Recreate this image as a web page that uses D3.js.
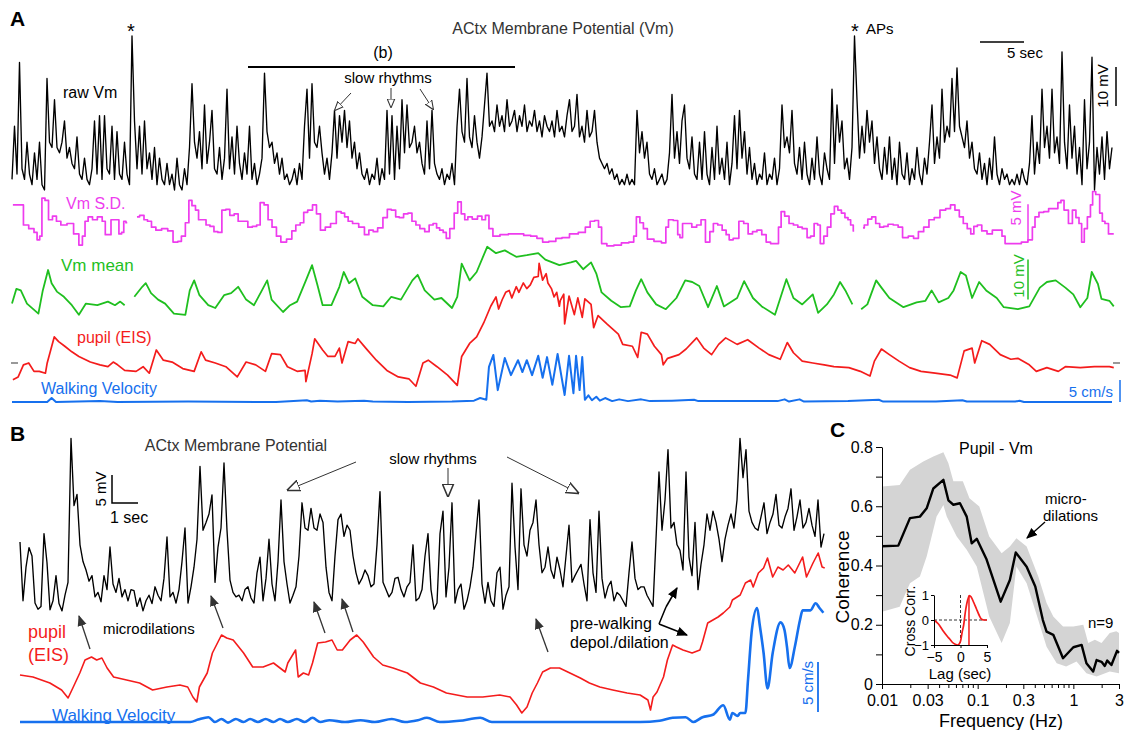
<!DOCTYPE html>
<html>
<head>
<meta charset="utf-8">
<script src="https://cdn.jsdelivr.net/npm/d3@7"></script>
<style>
  body { margin: 0; background: #fff; }
  text { font-family: 'Liberation Sans', Arial, sans-serif; }
</style>
</head>
<body>
<div id="chart"></div>
<script>
// ---------- panel A data (time in sec, 0..125) ----------
// raw Vm, evenly sampled (441 samples over 125 s), mV above rest
const rawVmA = [
  2,12,3,24,4,2,9,3,1,7,2,9,1,0,21,9,8,17,8,7,
  9,13,6,8,5,4,10,3,2,6,2,1,4,13,3,14,2,14,4,3,
  12,2,11,3,2,9,3,1,29,13,4,12,3,13,4,7,2,8,1,6,
  2,1,5,1,3,0,6,1,0,4,1,8,20,9,6,11,4,16,5,9,
  15,4,3,8,2,6,19,4,10,3,12,5,2,7,3,12,2,5,1,3,
  6,22,11,8,9,5,7,3,6,2,3,1,2,4,1,5,2,12,19,6,
  20,9,8,12,7,3,6,2,7,15,6,14,9,15,8,13,6,9,4,7,
  3,2,4,1,3,2,6,1,4,2,15,3,14,2,12,4,17,7,16,8,
  9,12,7,9,5,3,13,4,15,5,3,2,4,1,3,2,5,1,12,19,
  11,9,21,10,8,14,9,6,10,16,22,12,13,11,16,12,14,11,17,12,
  13,15,11,14,12,16,11,13,12,15,11,13,10,14,12,11,13,10,15,11,
  12,10,14,17,11,12,18,10,12,9,15,10,11,15,9,6,5,4,5,3,
  4,2,3,1,2,1,3,1,2,1,15,7,11,6,9,3,2,4,1,2,
  3,1,2,7,18,6,11,5,13,16,6,4,10,3,2,9,2,11,3,1,
  8,2,12,3,6,2,9,1,5,14,4,15,6,11,3,8,2,5,1,3,
  2,7,1,3,2,6,1,4,16,8,10,7,15,5,3,8,2,9,3,1,
  6,2,10,3,1,7,4,2,19,5,16,9,13,4,6,2,8,29,17,6,
  12,7,15,9,13,5,10,4,2,8,3,10,2,6,1,9,3,2,7,1,
  4,2,8,3,1,6,3,9,16,5,10,6,19,9,12,10,21,11,23,12,
  10,8,13,6,9,4,3,7,2,5,1,6,2,10,3,1,4,2,3,1,
  2,1,3,1,4,2,1,5,14,3,9,5,19,8,12,6,19,7,10,5,
  26,9,4,16,6,12,3,8,1,17,4,9,25,0,8,3,10,2,11,4,8
]

// Vm S.D. (mV) as [sec, value]; null = gap
const vmSdA = [
  [0.1,5.5],[1.1,5.5],[1.5,2.8],[2.3,2.3],[2.7,1.8],[3.0,0.8],[3.3,1.3],[3.5,6.4],[4.0,6.1],[4.3,3.5],
  [4.9,4.0],[5.2,3.3],[5.9,2.8],[6.6,3.0],[7.4,1.6],[7.8,0.1],[8.2,1.3],[8.4,3.3],[8.9,3.9],[9.4,3.5],
  [10.0,3.9],[10.5,3.3],[10.7,1.5],[11.1,1.5],[11.4,3.5],[12.0,3.5],[12.3,1.6],[12.6,1.8],[12.8,3.3],[13.1,3.1],
  [13.6,null],
  [14.2,3.9],[14.8,4.1],[15.2,3.5],[15.6,3.3],[16.1,2.5],[16.6,2.1],[17.4,2.3],[18.0,2.0],[18.6,0.5],[19.1,0.6],
  [19.4,1.3],[20.0,3.1],[20.2,6.1],[20.7,5.4],[21.0,4.8],[21.4,3.5],[21.8,3.5],[22.3,2.8],[22.7,2.6],[23.2,1.9],
  [23.6,1.8],[24.1,4.8],[24.5,4.9],[25.0,4.1],[25.5,4.3],[25.9,3.3],[26.6,3.3],[27.0,2.5],[27.6,2.6],[28.0,2.8],
  [28.4,5.8],[28.9,5.5],[29.3,3.5],[29.8,2.5],[30.3,1.3],[30.8,0.5],[31.6,0.9],[32.0,2.0],[32.5,2.8],[33.0,3.1],
  [33.3,4.5],[33.9,4.8],[34.4,5.5],[34.8,4.3],[35.3,2.1],[35.9,2.5],[36.5,3.0],[37.2,4.6],[37.6,4.4],[38.0,3.9],
  [38.4,3.3],[39.0,3.0],[39.8,2.5],[40.3,1.5],[40.8,2.1],[41.3,1.9],[41.8,2.4],[42.5,3.8],[42.8,4.9],[43.4,4.8],
  [43.8,3.9],[44.2,3.8],[44.8,4.3],[45.2,4.4],[45.7,3.3],[46.1,2.8],[46.6,2.3],[47.2,1.9],[47.6,2.8],[48.1,3.0],
  [48.4,2.4],[48.8,2.1],[49.2,1.8],[49.5,1.0],[50.0,2.3],[50.5,4.4],[50.8,5.9],[51.3,4.3],[51.6,3.5],[52.0,3.9],
  [52.6,3.6],[53.2,4.0],[53.6,3.5],[54.0,4.1],[54.4,2.3],[54.9,1.3],[56.0,1.5],[56.8,1.6],[57.7,1.6],[58.6,1.4],
  [59.3,1.3],[60.0,1.0],[60.6,0.5],[61.4,0.6],[62.2,1.0],[62.8,1.1],[63.9,1.6],[64.8,1.8],[65.5,2.5],[65.9,3.3],
  [66.5,3.4],[66.8,2.5],[67.2,0.3],[68.0,0.0],[68.8,0.1],[69.7,0.4],[70.5,0.5],[70.8,1.3],[71.1,3.9],[71.6,3.1],
  [71.9,2.3],[72.5,0.9],[73.4,0.6],[74.2,0.4],[74.4,2.5],[74.8,3.5],[75.5,3.4],[75.8,1.5],[76.0,1.1],[76.4,3.0],
  [77.0,3.0],[77.5,2.5],[78.1,2.8],[78.5,3.5],[79.1,0.5],[79.5,1.9],[79.9,3.0],[80.5,2.8],[80.9,2.1],[81.4,1.5],
  [81.6,0.8],[82.3,1.0],[82.9,3.3],[83.4,3.0],[83.9,1.6],[84.4,1.9],[84.9,2.1],[85.5,1.5],[85.9,0.5],[86.5,0.3],
  [86.9,0.3],[87.3,2.5],[87.5,4.6],[88.1,4.0],[88.5,3.0],[89.1,2.8],[89.5,2.5],[90.1,2.3],[90.6,1.1],[90.9,1.3],
  [91.4,3.0],[91.7,2.8],[92.0,0.3],[92.5,1.3],[92.8,2.5],[93.3,4.3],[93.6,5.3],[94.1,4.8],[94.4,4.4],[94.9,3.8],
  [95.1,3.5],[95.5,2.8],[95.7,2.0],
  [96.2,null],
  [96.7,2.4],[97.0,2.8],[97.5,3.6],[97.9,3.9],[98.4,3.0],[98.8,2.5],[99.3,2.6],[99.8,2.9],[100.5,2.8],[100.9,2.5],
  [101.5,1.1],[102.2,1.3],[102.7,1.0],[103.3,1.9],[103.9,2.5],[104.5,3.5],[105.1,3.8],[105.8,4.8],[106.4,5.0],[106.9,5.5],
  [107.4,4.8],[107.9,3.9],[108.3,3.0],[108.8,2.3],[109.1,1.6],[109.5,2.6],[109.9,2.8],[110.5,2.0],[111.1,1.6],[111.7,2.1],
  [112.3,2.1],[112.7,1.3],[113.0,0.3],[113.6,0.3],[114.3,0.3],[115.1,0.5],[115.8,0.8],[116.1,2.5],[116.4,3.9],[117.0,4.5],
  [117.5,4.6],[118.1,5.0],[118.6,5.0],[119.1,5.8],[119.3,6.1],[119.8,4.8],[120.3,3.0],[120.7,4.8],[121.1,3.8],[121.4,3.0],
  [121.7,0.5],[122.0,2.3],[122.4,3.9],[122.7,5.5],[122.9,7.3],[123.4,6.9],[123.8,4.4],[124.0,3.3],[124.4,3.0],[124.8,1.6],
  [125.2,1.6]
]

// Vm mean (mV above rest) as [sec, value]
const vmMeanA = [
  [0,3.0],[0.5,6.7],[1.0,6.3],[1.7,3.0],[3.0,0.5],[3.5,6.3],[4.1,11.4],[4.5,8.1],[5.1,6.0],[5.9,4.7],
  [6.8,2.6],[7.6,0.2],[8.4,3.0],[9.7,2.6],[10.9,3.5],[11.7,2.6],[12.3,3.5],[12.8,2.6],
  [13.3,null],
  [13.9,4.7],[14.8,7.2],[15.2,8.1],[15.8,5.6],[16.6,4.0],[17.4,3.0],[18.4,0.5],[19.7,0.2],[20.2,6.3],[20.7,8.8],
  [21.3,5.1],[22.3,2.6],[23.1,1.9],[24.1,5.1],[24.9,5.6],[25.7,7.2],[26.6,4.0],[27.5,2.6],[28.4,6.3],[29.0,8.8],
  [29.5,4.0],[30.8,0.9],[31.6,2.6],[32.4,3.5],[33.4,8.8],[34.1,12.6],[34.7,7.7],[35.3,2.6],[36.3,2.6],[37.2,7.2],
  [37.7,10.9],[38.3,8.1],[39.0,9.3],[39.8,4.7],[41.0,2.6],[42.2,2.3],[43.1,4.7],[44.2,4.0],[45.5,8.8],[46.1,10.2],
  [46.9,6.3],[48.0,4.0],[48.8,4.4],[50.0,1.9],[50.6,4.7],[51.1,13.0],[52.0,8.8],[52.8,10.9],[54.0,17.2],[55.0,15.6],
  [56.0,16.3],[57.3,14.7],[58.5,15.1],[59.8,15.6],[60.6,14.0],[62.2,12.6],[63.5,13.3],[64.1,13.7],[64.9,11.6],[65.8,13.3],
  [66.4,10.5],[67.0,5.8],[68.1,3.7],[69.2,2.1],[70.2,2.3],[70.9,6.3],[71.5,9.1],[72.2,5.8],[73.2,2.8],[74.3,1.6],
  [75.5,4.4],[76.5,8.8],[77.3,8.4],[78.1,7.4],[79.1,2.1],[80.1,7.4],[80.9,2.3],[82.4,4.4],[83.2,8.6],[84.2,4.4],
  [85.2,2.3],[86.7,0.2],[88.0,9.1],[88.8,4.4],[89.8,2.8],[91.0,5.3],[91.6,0.7],[92.6,2.8],[93.4,5.3],[94.1,8.4],
  [94.7,6.3],[95.5,2.8],
  [96.0,null],
  [96.5,1.6],[97.2,2.8],[98.2,8.8],[98.8,7.0],[99.7,4.4],[101.3,2.1],[102.8,3.3],[103.8,3.7],[104.5,6.3],[105.3,3.3],
  [106.4,4.4],[107.0,6.3],[107.8,10.9],[108.4,10.0],[109.1,4.4],[109.9,8.4],[110.7,6.3],[111.9,4.4],[112.7,2.1],[114.3,1.6],
  [115.6,2.3],[116.8,7.0],[117.6,8.4],[118.6,8.8],[119.7,7.0],[120.6,5.3],[121.4,2.1],[122.2,4.4],[122.7,10.9],[123.4,7.9],
  [123.8,4.2],[124.7,3.7],[125.2,2.3]
]

// pupil diameter (% change) as [sec, value]
const pupilA = [
  [0.1,3],[0.7,4.5],[1.3,11],[1.9,12],[2.5,7.5],[3.1,7.5],[3.8,6.5],[4.0,12],[4.8,26],[5.3,23.5],
  [6.0,21],[6.8,18],[7.6,15.5],[8.9,12.5],[10.0,11],[10.9,10],[11.5,12.5],[12.0,11],[12.8,8],[14.1,7.5],
  [14.9,10],[15.6,6.5],[16.4,19],[17.2,13.5],[18.2,12.5],[19.4,9],[20.7,7.5],[21.5,18],[22.0,13.5],[23.1,12],
  [24.3,10],[25.6,4.5],[26.6,12.5],[27.7,11],[28.8,7.5],[29.5,17],[30.5,16.5],[31.3,10],[32.4,7.5],[33.3,8],
  [33.4,2],[34.1,17],[34.4,25],[35.3,19],[35.9,15.5],[36.7,15.5],[37.2,20],[37.5,12],[38.2,23.5],[39.0,22.5],
  [39.3,25],[40.2,20],[41.4,13.5],[42.6,8],[43.9,4.5],[45.1,3.5],[45.9,-0.5],[46.7,12],[47.3,13.5],[48.3,10],
  [49.5,5.5],[50.6,0],[51.1,15.5],[52.0,22.5],[52.8,26],[53.6,33.5],[54.4,42.5],[55.0,47.5],[55.3,41],[55.7,46],
  [56.1,50],[56.5,51],[56.8,47],[57.3,53],[57.6,50],[58.1,55],[58.5,52],[58.9,54],[59.3,58],[59.8,58.5],
  [59.9,65.5],[60.3,56.5],[60.7,60],[60.9,55],[61.3,52],[61.6,47.5],[61.9,50],[62.2,42.5],[62.3,45.5],[62.7,49],
  [62.8,33],[63.3,48],[63.9,38],[64.3,47],[64.8,36.5],[65.1,46.5],[65.8,43.5],[66.1,31],[66.6,37.5],[67.6,33],
  [68.9,27.5],[69.4,22],[70.5,21],[71.1,15],[71.5,28.5],[72.2,27.5],[73.0,21],[73.8,16.5],[74.0,11],[74.5,14.5],
  [75.8,16.5],[76.6,19.5],[77.8,25.5],[78.6,20],[79.5,16.5],[80.3,22],[81.1,25.5],[82.4,22],[83.6,24.5],[84.9,20],
  [86.0,16.5],[87.3,14],[88.1,23],[88.8,17.5],[89.8,13],[91.0,12],[92.3,11],[93.4,10],[95.1,9.5],[96.4,7.5],
  [97.5,5],[98.0,13],[98.8,19.5],[99.7,16.5],[100.8,13],[102.0,9.5],[103.3,7.5],[104.9,6.5],[106.6,5.5],[107.4,4],
  [108.2,18.5],[109.1,20],[109.4,12],[110.2,24],[111.1,22],[112.3,16.5],[113.5,14],[114.3,14.5],[115.6,11],[116.4,7.5],
  [117.6,9.5],[118.9,7.5],[119.7,10],[121.4,9.5],[123.0,10],[124.7,10],[125.2,9.5]
]
const pupilRefA = 12

// walking velocity (cm/s) as [sec, value]
const walkA = [
  [0,0],[4.0,0],[4.5,0.9],[5.0,0],[10,0.2],[12,0],[20,0.1],[30,0],[33.5,0.4],[34,0.1],
  [35,0.3],[37,0.1],[40,0.3],[41,0.1],[45,0],[50,0.1],[52.5,0.3],[53.2,0.9],[53.9,0.5],[54.2,8],
  [54.7,10.7],[55.2,2.7],[56.0,10],[56.7,6.1],[57.5,9.5],[58.0,6.8],[58.5,9.5],[59.1,6.1],[59.8,10.5],[60.3,5.5],
  [60.8,10.2],[61.4,3.9],[62.0,10.9],[62.8,1.6],[63.3,10.5],[63.8,2.0],[64.1,10.5],[64.5,2.7],[64.8,10.2],[65.1,0.5],
  [65.5,1.5],[65.9,0.4],[66.4,1.2],[66.8,0.3],[67.4,0.9],[68.2,0.2],[69,0.6],[70,0.2],[71.5,0.6],[72.5,0.2],
  [75,0.3],[77.5,0.5],[78,0.2],[82,0.2],[87,0.2],[87.8,0.6],[88.3,0.1],[89.5,0.6],[90,0.1],[95,0.2],
  [98.5,0.5],[99,0.1],[105,0.1],[108,0.4],[108.5,0.1],[114,0.1],[114.5,0.3],[115,0],[125,0]
]

// ---------- panel B data (time in sec, 0..31) ----------
// raw Vm, evenly sampled every 3/26 s, mV above rest
const rawVmB = [
  12.5,2,8,11.5,10,1.6,0.5,1,14,8.8,0.4,2,6.5,1.5,0.2,3,5.3,31,19,21,
  12,9,7.5,5.5,6.5,2.7,3.5,1.8,6.5,4,11.6,5,3.5,6,2.7,4,2,4,3.8,1,
  2.5,0.2,2,3,1.5,4.5,3,2,6,13.4,2.7,3.5,1.6,4,9,15,1.6,4.5,8,13,
  26,14.6,16,17.5,20.9,5.3,11.6,15,26.6,14.6,5.7,3.5,2.7,3,2,4,4.5,2.5,1.6,7,
  9.8,2,6,13,5,2,9,20,9,5,1.6,3,4.5,10,19.5,15,14.6,18.5,15,14.6,
  17.5,16,8,3.5,2,10,16.5,17.5,13.5,15.5,14.6,10,7,5,6,7.5,6.5,4.5,5,12,
  21.5,5.3,4,2.7,3.5,6,6.2,4,2.7,4.5,5.3,12,2,2.5,4,10,14,4,0.5,1.6,
  14,18,2.7,8,19.5,1.6,4,5,0.5,2,4.5,8,14,20,5,1.6,5.3,2,1,7,
  8,0.5,3,4.5,23,11.6,4,22,12,10,14.6,16,20,12,7,8,11.6,7.5,6,9.8,
  7.5,4.5,10,15.5,5.3,6.5,7.5,8.5,5,2,16.5,7,3.5,18,6,2.5,4.5,5.5,2,3.5,
  3,2,1,7,12.5,6,4,4.5,4.5,3,2,1,13,25,14.6,20,29,15,16,12,
  11,7.5,25,9.8,6.5,16,4,8.5,12,17.5,14.6,18,16,13,9,13,15.5,17.5,15,20,
  31,24,29,18,16,15,14.6,17,19.5,14,16,17.5,21,15.5,15,17,18.5,22,14.6,17,
  20,15,16,18.5,15.5,13.5,20,11.6,14
]
const rawDtB = 3 / 26

const pupilB = [
  [0,17.5],[0.5,16.5],[1.15,13.5],[1.6,10],[1.85,6],[2.05,11.5],[2.3,18.5],[2.5,25],[2.75,26.5],[2.95,25],
  [3.15,26],[3.35,21],[3.6,16.5],[4.1,15],[4.6,13.5],[5.1,10],[5.65,11.5],[6.15,12.5],[6.45,11.5],[6.65,6.5],
  [6.8,4],[6.9,11.5],[7.2,18.5],[7.4,28.5],[7.75,37.5],[7.95,36],[8.2,35],[8.6,28.5],[8.95,21.5],[9.35,21.5],
  [9.75,23.5],[10.0,21],[10.2,19],[10.3,23.5],[10.6,30],[10.7,16.5],[10.9,18.5],[11.1,17.5],[11.25,23.5],[11.45,33.5],
  [11.75,34],[12.0,35],[12.2,30],[12.4,30],[12.7,35],[12.95,37.5],[13.2,34],[13.6,26.5],[13.95,22.5],[14.35,21],
  [14.9,18.5],[15.4,13.5],[15.9,11.5],[16.4,8.5],[17.2,6.5],[17.8,6.5],[18.45,7.5],[18.85,6.5],[19.1,2.5],[19.3,-1.5],
  [19.5,1.5],[19.7,8.5],[19.9,13.5],[20.1,19],[20.4,21],[20.75,21],[21.15,18.5],[21.55,16],[21.9,13.5],[22.3,11.5],
  [22.8,10],[23.35,8.5],[23.85,7.5],[24.15,5],[24.25,0],[24.35,6.5],[24.5,9],[24.75,16.5],[24.9,25],[25.1,32.5],
  [25.25,31.5],[25.5,30],[25.85,28.5],[26.15,30],[26.25,34],[26.45,43.5],[26.65,45],[26.85,46.5],[27.05,48.5],[27.3,51.5],
  [27.4,55],[27.7,57.5],[27.9,63.5],[28.1,65],[28.2,61.5],[28.4,68.5],[28.6,71],[28.75,76],[28.95,66.5],[29.15,71.5],
  [29.35,70],[29.55,72.5],[29.8,68.5],[30.1,76.5],[30.25,66.5],[30.5,73.5],[30.7,78.5],[30.85,71.5],[30.95,71]
]

const walkB = [
  [0,0],[6.55,0],[6.85,0.2],[7.25,0.4],[7.5,0],[7.75,0.25],[8.0,-0.05],[8.3,0.25],[8.6,0],[8.85,0.25],
  [9.15,0],[9.45,0.25],[9.75,0],[10.0,0.25],[10.3,0],[10.65,0.25],[10.95,0],[11.25,0.35],[11.55,0],[11.9,0.15],
  [12.5,0],[13.1,0.15],[13.65,0],[14.3,0.25],[14.8,0],[15.3,0.15],[15.65,0.35],[16.15,0],[16.9,0.1],[17.7,0.35],
  [18.15,0],[19.2,0],[20.75,0],[22.3,0],[23.85,0],[24.6,0.1],[25.1,0.35],[25.6,0.4],[25.9,0],[26.25,0.4],
  [26.65,0.6],[27.05,1.4],[27.3,0.2],[27.4,0.75],[27.6,0.5],[27.7,0.75],[27.9,0.75],[28.0,3.5],[28.15,7.7],[28.35,9.5],
  [28.45,8.1],[28.6,5.75],[28.75,2.8],[28.95,5.75],[29.25,8.3],[29.4,7.7],[29.5,6.25],[29.6,4.5],[29.8,6.25],[30.0,8.5],
  [30.1,9.3],[30.4,9.3],[30.6,9.9],[30.75,9.5],[30.9,9.1]
]

// ---------- panel C data ----------
const cohFreq = [0.01,0.0148,0.0196,0.0249,0.0293,0.0344,0.0438,0.0494,0.0557,0.0653,0.0768,0.0866,0.0978,0.124,0.174,0.217,0.25,0.325,0.40,0.48,0.525,0.617,0.78,1.0,1.22,1.37,1.61,1.75,1.97,2.13,2.26,2.5,2.86,3.0]
const cohMean = [0.465,0.467,0.56,0.565,0.593,0.66,0.689,0.62,0.605,0.61,0.565,0.475,0.49,0.42,0.278,0.351,0.444,0.396,0.329,0.216,0.177,0.166,0.087,0.124,0.132,0.07,0.042,0.081,0.075,0.061,0.079,0.064,0.112,0.105]
const cohUpper = [[0.01,0.667],[0.0153,0.672],[0.0196,0.723],[0.027,0.751],[0.0344,0.768],[0.0438,0.782],[0.0494,0.745],[0.0557,0.684],[0.07,0.684],[0.082,0.627],[0.104,0.599],[0.132,0.498],[0.178,0.441],[0.217,0.464],[0.254,0.492],[0.325,0.464],[0.43,0.363],[0.525,0.273],[0.617,0.228],[0.78,0.194],[1.0,0.194],[1.27,0.2],[1.43,0.138],[1.68,0.149],[1.97,0.138],[2.4,0.172],[2.81,0.178],[3.0,0.172]]
const cohLower = [[0.01,0.244],[0.0153,0.261],[0.0196,0.34],[0.0249,0.363],[0.0293,0.43],[0.0372,0.565],[0.0438,0.604],[0.0475,0.565],[0.0604,0.498],[0.0768,0.453],[0.0978,0.397],[0.132,0.228],[0.178,0.138],[0.217,0.206],[0.254,0.397],[0.325,0.34],[0.43,0.216],[0.525,0.126],[0.67,0.07],[0.84,0.059],[1.08,0.076],[1.37,0.036],[1.75,0.025],[2.4,0.042],[3.0,0.036]]
const freqTicks = [0.01, 0.03, 0.1, 0.3, 1, 3]
const cohTicks = [0, 0.2, 0.4, 0.6, 0.8]

const xcorr = [[-5,0],[-4.2,-0.15],[-3.3,-0.43],[-2.5,-0.65],[-2.0,-0.77],[-1.5,-0.9],[-1.0,-0.97],[-0.5,-1],[0,-0.85],[0.3,-0.5],[0.6,-0.2],[0.9,0.3],[1.2,0.67],[1.5,0.9],[1.7,0.98],[2.0,0.92],[2.5,0.7],[3.0,0.45],[3.5,0.2],[4.0,0.03],[4.5,0],[5,0]]
const xcorrPeakLag = 1.6

// ---------- colours ----------
const magenta = '#ee3cee'
const green = '#1fbf1f'
const red = '#f41c1c'
const blue = '#1670ee'
const ink = '#333'

const svg = d3
  .select('#chart')
  .append('svg')
  .attr('width', 1124)
  .attr('height', 730)

const defs = svg.append('defs')
function marker(id, fill, stroke, size) {
  defs
    .append('marker')
    .attr('id', id)
    .attr('viewBox', '0 0 10 10')
    .attr('refX', 9)
    .attr('refY', 5)
    .attr('markerWidth', size)
    .attr('markerHeight', size)
    .attr('markerUnits', 'userSpaceOnUse')
    .attr('orient', 'auto')
    .append('path')
    .attr('d', 'M0,0.8 L10,5 L0,9.2 Z')
    .attr('fill', fill)
    .attr('stroke', stroke)
    .attr('stroke-width', 1.2)
}
marker('openS', '#fff', ink, 9)
marker('openL', '#fff', ink, 13)
marker('solid', ink, 'none', 11)
marker('solidK', '#000', 'none', 11)

function label(x, y, txt, size, color, anchor, extra) {
  const t = svg
    .append('text')
    .attr('x', x)
    .attr('y', y)
    .text(txt)
    .attr('font-size', size)
    .attr('fill', color || '#000')
    .attr('text-anchor', anchor || 'start')
  if (extra) t.attr('font-weight', extra)
  return t
}
function vlabel(x, y, txt, size, color) {
  return svg
    .append('text')
    .attr('transform', 'translate(' + x + ',' + y + ') rotate(-90)')
    .text(txt)
    .attr('font-size', size)
    .attr('fill', color)
    .attr('text-anchor', 'middle')
}
function arrow(x1, y1, x2, y2, m, color, w) {
  svg
    .append('line')
    .attr('x1', x1)
    .attr('y1', y1)
    .attr('x2', x2)
    .attr('y2', y2)
    .attr('stroke', color)
    .attr('stroke-width', w)
    .attr('marker-end', 'url(#' + m + ')')
}
function trace(data, line, color, w) {
  svg
    .append('path')
    .datum(data)
    .attr('d', line)
    .attr('fill', 'none')
    .attr('stroke', color)
    .attr('stroke-width', w)
    .attr('stroke-linejoin', 'round')
}

// ================= Panel A =================
const xA = d3.scaleLinear().domain([0, 125]).range([12, 1112])
const rawDtA = 125 / (rawVmA.length - 1)
const yRawA = d3.scaleLinear().domain([0, 32]).range([190, 20])
const ySdA = d3.scaleLinear().domain([0, 8]).range([245.8, 186.3])
const yMeanA = d3.scaleLinear().domain([0, 20]).range([315.6, 235.6])
const yPupA = d3.scaleLinear().domain([0, 70]).range([385.3, 255.1])
const yWalkA = d3.scaleLinear().domain([0, 10]).range([402, 358])

trace(rawVmA, d3.line().x((d, i) => xA(i * rawDtA)).y(d => yRawA(d)), '#000', 1.35)

const pairLine = (x, y) =>
  d3
    .line()
    .defined(d => d[1] !== null)
    .x(d => x(d[0]))
    .y(d => y(d[1]))

trace(vmSdA, pairLine(xA, ySdA).curve(d3.curveStep), magenta, 1.7)
trace(vmMeanA, pairLine(xA, yMeanA), green, 1.8)
trace(pupilA, pairLine(xA, yPupA), red, 1.7)
trace(walkA, pairLine(xA, yWalkA), blue, 2)

// grey zero marks beside the pupil trace
svg.append('line').attr('x1', 11).attr('x2', 18).attr('y1', yPupA(pupilRefA)).attr('y2', yPupA(pupilRefA)).attr('stroke', '#999').attr('stroke-width', 2)
svg.append('line').attr('x1', 1113).attr('x2', 1120).attr('y1', yPupA(pupilRefA)).attr('y2', yPupA(pupilRefA)).attr('stroke', '#999').attr('stroke-width', 2)

label(10, 26, 'A', 21, '#000', 'start', 'bold')
label(563, 34, 'ACtx Membrane Potential (Vm)', 16, ink, 'middle')
label(131, 38, '*', 20, '#000', 'middle')
label(855, 38, '*', 20, '#000', 'middle')
label(866, 34, 'APs', 15, '#000')
label(383, 58, '(b)', 16, '#000', 'middle')
svg.append('line').attr('x1', 248).attr('x2', 515).attr('y1', 67).attr('y2', 67).attr('stroke', '#000').attr('stroke-width', 2)
label(388, 83, 'slow rhythms', 15, '#000', 'middle')
arrow(351, 93, 335, 110, 'openS', ink, 1)
arrow(391, 88, 391, 107, 'openS', ink, 1)
arrow(420, 89, 433, 109, 'openS', ink, 1)
label(63, 98, 'raw Vm', 16, '#000')

// 5 sec / 10 mV scale bars
svg.append('line').attr('x1', xA(110)).attr('x2', xA(115)).attr('y1', 42).attr('y2', 42).attr('stroke', '#000').attr('stroke-width', 1.5)
label(1025, 58, '5 sec', 15, '#000', 'middle')
svg.append('line').attr('x1', 1116).attr('x2', 1116).attr('y1', 67).attr('y2', 106).attr('stroke', '#000').attr('stroke-width', 1.5)
vlabel(1108, 86, '10 mV', 15, '#000')

label(66, 209, 'Vm S.D.', 16, magenta)
vlabel(1021, 208, '5 mV', 15, magenta)
svg.append('line').attr('x1', 1028).attr('x2', 1028).attr('y1', ySdA(5.6)).attr('y2', ySdA(0.6)).attr('stroke', magenta).attr('stroke-width', 1.5)

label(61, 271, 'Vm mean', 17, green)
vlabel(1024, 276, '10 mV', 15, green)
svg.append('line').attr('x1', 1028).attr('x2', 1028).attr('y1', yMeanA(14)).attr('y2', yMeanA(4)).attr('stroke', green).attr('stroke-width', 1.5)

label(77, 343, 'pupil (EIS)', 16, red)
label(41, 394, 'Walking Velocity', 16, blue)
label(1113, 397, '5 cm/s', 15, blue, 'end')
svg.append('line').attr('x1', 1120).attr('x2', 1120).attr('y1', yWalkA(5)).attr('y2', yWalkA(0)).attr('stroke', blue).attr('stroke-width', 1.5)

// ================= Panel B =================
const xB = d3.scaleLinear().domain([0, 268 * rawDtB]).range([20, 824])
const yRawB = d3.scaleLinear().domain([0, 31]).range([612, 438.4])
const yPupB = d3.scaleLinear().domain([0, 80]).range([710, 550])
const yWalkB = d3.scaleLinear().domain([0, 10]).range([722, 602])

trace(rawVmB, d3.line().x((d, i) => xB(i * rawDtB)).y(d => yRawB(d)), '#000', 1.35)
trace(pupilB, pairLine(xB, yPupB), red, 1.6)
trace(walkB, pairLine(xB, yWalkB).curve(d3.curveMonotoneX), blue, 2.6)

label(10, 441, 'B', 21, '#000', 'start', 'bold')
label(236, 451, 'ACtx Membrane Potential', 16, ink, 'middle')

// 5 mV / 1 sec L bar
const barY = 503
svg.append('path')
  .attr('d', 'M112,' + (barY - (yRawB(0) - yRawB(5))) + ' L112,' + barY + ' L' + (112 + xB(1) - xB(0)) + ',' + barY)
  .attr('fill', 'none').attr('stroke', '#000').attr('stroke-width', 1.5)
vlabel(106, 489, '5 mV', 15, '#000')
label(110, 523, '1 sec', 16, '#000')

label(433, 464, 'slow rhythms', 15, '#000', 'middle')
arrow(356, 462, 288, 490, 'openL', ink, 1)
arrow(448, 468, 448, 496, 'openL', ink, 1)
arrow(507, 457, 578, 493, 'openL', ink, 1)

label(28, 638, 'pupil', 18, red)
label(28, 661, '(EIS)', 18, red)
label(103, 634, 'microdilations', 15, '#000')
arrow(90, 649, 79, 616, 'solid', ink, 1.3)
arrow(223, 628, 211, 596, 'solid', ink, 1.3)
arrow(325, 633, 314, 602, 'solid', ink, 1.3)
arrow(353, 632, 342, 599, 'solid', ink, 1.3)
arrow(548, 652, 536, 619, 'solid', ink, 1.3)

label(570, 629, 'pre-walking', 16, '#000')
label(570, 648, 'depol./dilation', 16, '#000')
svg.append('line').attr('x1', 659).attr('y1', 624).attr('x2', 666).attr('y2', 607).attr('stroke', '#000').attr('stroke-width', 1.5)
arrow(666, 607, 677, 588, 'solidK', '#000', 1.5)
arrow(659, 624, 687, 635, 'solidK', '#000', 1.5)

label(52, 721, 'Walking Velocity', 17, blue)
vlabel(813, 683, '5 cm/s', 15, blue)
svg.append('line').attr('x1', 818).attr('x2', 818).attr('y1', yWalkB(5)).attr('y2', yWalkB(0) - 10).attr('stroke', blue).attr('stroke-width', 1.8)

// ================= Panel C =================
const xC = d3.scaleLog().domain([0.01, 3]).range([882, 1119])
const yC = d3.scaleLinear().domain([0, 0.8]).range([684, 447])

svg.append('path')
  .datum(cohUpper.concat(cohLower.slice().reverse()))
  .attr('d', d3.line().x(d => xC(d[0])).y(d => yC(d[1])))
  .attr('fill', '#d4d4d4')

trace(
  cohFreq.map((f, i) => [f, cohMean[i]]),
  d3.line().x(d => xC(d[0])).y(d => yC(d[1])),
  '#000',
  2.4
)

const minorFreq = [0.02, 0.04, 0.05, 0.06, 0.07, 0.08, 0.09, 0.2, 0.4, 0.5, 0.6, 0.7, 0.8, 0.9, 2]
const xAxisC = svg.append('g').attr('transform', 'translate(0,684)')
xAxisC.call(d3.axisBottom(xC).tickValues(freqTicks).tickFormat(d3.format('~g')).tickSize(5).tickSizeOuter(0))
xAxisC.selectAll('.minor').data(minorFreq).enter().append('line')
  .attr('x1', d => xC(d)).attr('x2', d => xC(d)).attr('y1', 0).attr('y2', 4).attr('stroke', '#000')
xAxisC.selectAll('text').attr('font-size', 16).attr('fill', '#000').attr('dy', '0.9em')

const yAxisC = svg.append('g').attr('transform', 'translate(882,0)')
yAxisC.call(d3.axisLeft(yC).tickValues(d3.range(0, 0.81, 0.1)).tickFormat(d => (cohTicks.some(c => Math.abs(c - d) < 1e-6) ? d3.format('~g')(d) : '')).tickSize(6).tickSizeOuter(0))
yAxisC.selectAll('text').attr('font-size', 16).attr('fill', '#000')
svg.selectAll('.domain').attr('stroke', '#000')

label(830, 437, 'C', 21, '#000', 'start', 'bold')
label(996, 454, 'Pupil - Vm', 16, '#000', 'middle')
vlabel(849, 577, 'Coherence', 19, '#000')
label(1001, 727, 'Frequency (Hz)', 18, '#000', 'middle')
label(1045, 504, 'micro-', 15, '#000')
label(1043, 521, 'dilations', 15, '#000')
arrow(1045, 522, 1027, 538, 'solidK', '#000', 1.3)
label(1088, 628, 'n=9', 15, '#000')

// inset cross-correlation
const xLag = d3.scaleLinear().domain([-5, 5]).range([934, 987])
const yCC = d3.scaleLinear().domain([-1, 1]).range([645, 595])
svg.append('line').attr('x1', xLag(-5)).attr('x2', xLag(5)).attr('y1', yCC(0)).attr('y2', yCC(0)).attr('stroke', '#000').attr('stroke-dasharray', '3,2').attr('stroke-width', 0.8)
svg.append('line').attr('x1', xLag(0)).attr('x2', xLag(0)).attr('y1', yCC(1)).attr('y2', yCC(-1)).attr('stroke', '#000').attr('stroke-dasharray', '3,2').attr('stroke-width', 0.8)
trace(xcorr, d3.line().x(d => xLag(d[0])).y(d => yCC(d[1])).curve(d3.curveMonotoneX), red, 1.7)
svg.append('line').attr('x1', xLag(xcorrPeakLag)).attr('x2', xLag(xcorrPeakLag)).attr('y1', yCC(0.98)).attr('y2', yCC(-1)).attr('stroke', red).attr('stroke-width', 1.5)

const xAxisIn = svg.append('g').attr('transform', 'translate(0,' + yCC(-1) + ')')
xAxisIn.call(d3.axisBottom(xLag).tickValues([-5, 0, 5]).tickFormat(d3.format('~g')).tickSize(3).tickSizeOuter(0))
xAxisIn.selectAll('text').attr('font-size', 14).attr('fill', '#000').attr('dy', '0.8em')
const yAxisIn = svg.append('g').attr('transform', 'translate(' + xLag(-5) + ',0)')
yAxisIn.call(d3.axisLeft(yCC).tickValues([-1, 0, 1]).tickFormat(d3.format('~g')).tickSize(3).tickPadding(2).tickSizeOuter(0))
yAxisIn.selectAll('text').attr('font-size', 13).attr('fill', '#000')
svg.selectAll('.domain').attr('stroke', '#000')
label(960, 679, 'Lag (sec)', 15, '#000', 'middle')
vlabel(915, 621, 'Cross Corr.', 14, '#000')
</script>
</body>
</html>
